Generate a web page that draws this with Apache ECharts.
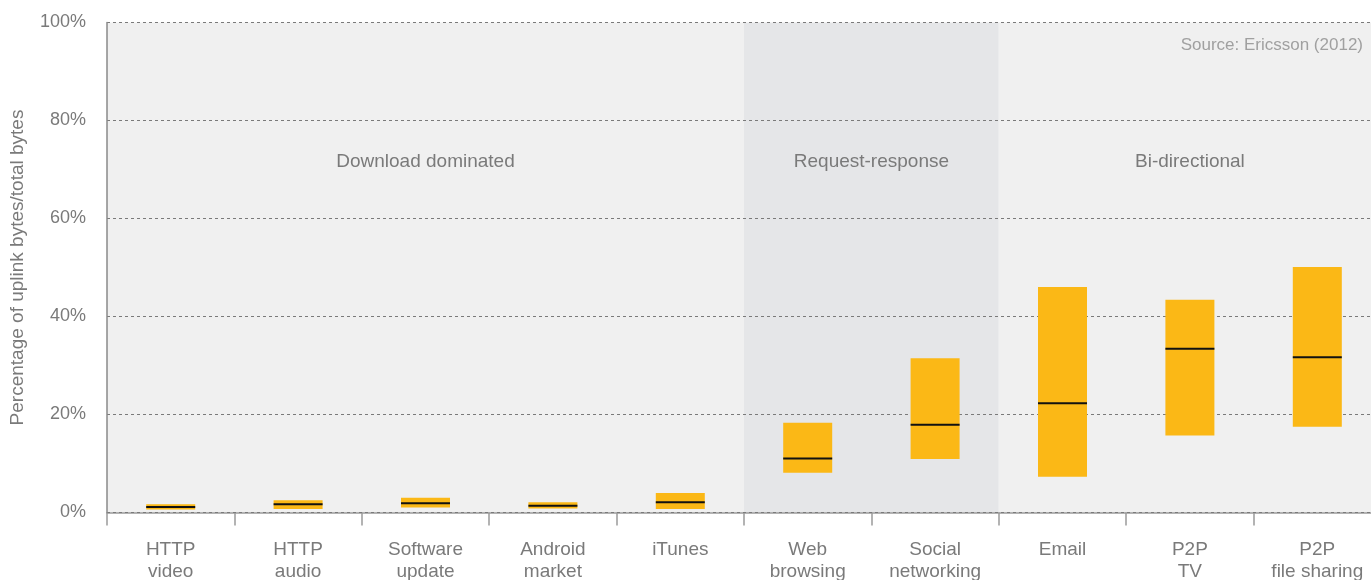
<!DOCTYPE html>
<html>
<head>
<meta charset="utf-8">
<script src="https://cdn.jsdelivr.net/npm/echarts@6/dist/echarts.min.js"></script>
<style>
  html, body { margin: 0; padding: 0; background: #ffffff; }
  #chart { width: 1371px; height: 580px; }
</style>
</head>
<body>
<div id="chart"></div>
<script>
// Uplink share of total bytes per application: range (low–high) and median
const categories = ['HTTP\nvideo', 'HTTP\naudio', 'Software\nupdate', 'Android\nmarket', 'iTunes',
  'Web\nbrowsing', 'Social\nnetworking', 'Email', 'P2P\nTV', 'P2P\nfile sharing'];
const lowValues    = [0.6, 0.7, 1.0, 0.8, 0.7, 8.1, 10.9, 7.3, 15.7, 17.5];
const highValues   = [1.7, 2.5, 3.0, 2.1, 4.0, 18.3, 31.5, 46.0, 43.4, 50.1];
const medianValues = [1.1, 1.7, 1.9, 1.4, 2.1, 11.0, 17.9, 22.3, 33.4, 31.7];

// Traffic groups: name, first and last category index
const groupNames = ['Download dominated', 'Request-response', 'Bi-directional'];
const groupStart = [0, 5, 7];
const groupEnd   = [4, 6, 9];
const yTicks = [0, 20, 40, 60, 80, 100];

const TEXT = '#7a7a7a';
const FONT = 'Liberation Sans';

// one shade per category band, the middle group darker
const bandColors = categories.map((_, i) => (i >= groupStart[1] && i <= groupEnd[1]) ? '#e5e6e8' : '#f0f0f0');

const rangeData = categories.map((_, i) => [i, lowValues[i], highValues[i], medianValues[i]]);
const groupData = groupNames.map((_, g) => [groupStart[g], groupEnd[g]]);

const chart = echarts.init(document.getElementById('chart'), null, { renderer: 'canvas' });

chart.setOption({
  animation: false,
  textStyle: { fontFamily: FONT },
  grid: {
    left: 107, right: -10, top: 22.5, bottom: 67.5,
    containLabel: false, outerBoundsMode: 'none'
  },
  graphic: [{
    type: 'text', right: 8, top: 37, z: 20,
    style: { text: 'Source: Ericsson (2012)', fill: '#a0a0a0', font: '17px "' + FONT + '"' }
  }],
  xAxis: {
    type: 'category',
    data: categories,
    z: 0,
    boundaryGap: true,
    axisLine: { lineStyle: { color: '#9a9a9a', width: 1.5 } },
    axisTick: { show: true, interval: 0, length: 13, lineStyle: { color: '#9a9a9a', width: 1.5 } },
    axisLabel: { interval: 0, color: TEXT, fontSize: 19, lineHeight: 22, margin: 26, fontFamily: FONT },
    splitArea: { show: true, interval: 0, areaStyle: { color: bandColors } },
    splitLine: { show: false }
  },
  yAxis: {
    type: 'value',
    min: 0, max: 100, interval: 20,
    z: 1,
    name: 'Percentage of uplink bytes/total bytes',
    nameLocation: 'middle',
    nameGap: 80,
    nameRotate: 90,
    nameTextStyle: { color: TEXT, fontSize: 19, fontFamily: FONT },
    axisLine: { show: true, lineStyle: { color: '#8a8a8a', width: 1.5 } },
    axisTick: { show: false },
    axisLabel: {
      color: TEXT, fontSize: 18, margin: 21, fontFamily: FONT,
      formatter: v => (yTicks.indexOf(v) >= 0 ? v + '%' : '')
    },
    splitLine: { show: true, lineStyle: { color: '#7a7a7a', width: 1, type: [3, 3] } }
  },
  series: [
    {
      // group captions spanning their category bands
      type: 'custom',
      z: 3,
      silent: true,
      data: groupData,
      encode: { x: [0, 1] },
      renderItem: (params, api) => {
        const band = api.size([1, 0])[0];
        const x0 = api.coord([api.value(0), 72])[0] - band / 2;
        const x1 = api.coord([api.value(1), 72])[0] + band / 2;
        const y = api.coord([0, 71.5])[1];
        return {
          type: 'text',
          style: {
            x: (x0 + x1) / 2, y: y,
            text: groupNames[params.dataIndex],
            fill: TEXT, font: '19px "' + FONT + '"',
            align: 'center', verticalAlign: 'middle'
          }
        };
      }
    },
    {
      // range boxes with a median line
      type: 'custom',
      z: 4,
      data: rangeData,
      encode: { x: 0, y: [1, 2, 3] },
      renderItem: (params, api) => {
        const i = api.value(0);
        const lo = api.coord([i, api.value(1)]);
        const hi = api.coord([i, api.value(2)]);
        const md = api.coord([i, api.value(3)]);
        const w = 49;
        return {
          type: 'group',
          children: [
            {
              type: 'rect',
              shape: { x: lo[0] - w / 2, y: hi[1], width: w, height: lo[1] - hi[1] },
              style: { fill: '#fbb816' }
            },
            {
              type: 'line',
              shape: { x1: md[0] - w / 2, y1: md[1], x2: md[0] + w / 2, y2: md[1] },
              style: { stroke: '#111111', lineWidth: 2 }
            }
          ]
        };
      }
    }
  ]
});
</script>
</body>
</html>
